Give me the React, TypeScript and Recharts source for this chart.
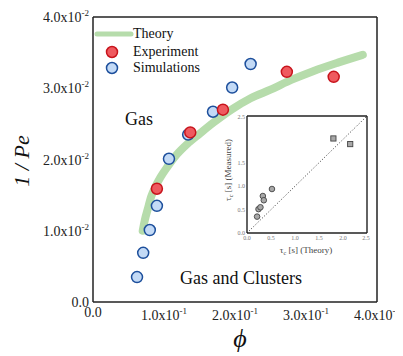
import React from 'react';
import {
  ComposedChart,
  Line,
  Scatter,
  XAxis,
  YAxis,
  ReferenceLine,
} from 'recharts';

// main panel
const theoryPhi = [0.07, 0.073, 0.077, 0.082, 0.088, 0.095, 0.105, 0.118, 0.133, 0.15, 0.17, 0.195, 0.222, 0.25, 0.28, 0.31, 0.345, 0.38];
const theoryPe = [0.01, 0.0115, 0.013, 0.0148, 0.0162, 0.0175, 0.019, 0.0207, 0.0222, 0.0236, 0.0252, 0.027, 0.0286, 0.0298, 0.0312, 0.0324, 0.0336, 0.0347];

const expPhi = [0.09, 0.137, 0.183, 0.273, 0.339];
const expPe = [0.0159, 0.0238, 0.027, 0.0323, 0.0316];

const simPhi = [0.062, 0.0707, 0.08, 0.09, 0.107, 0.134, 0.169, 0.196, 0.222];
const simPe = [0.0035, 0.0069, 0.0101, 0.0135, 0.0201, 0.0235, 0.0267, 0.0301, 0.0334];

const xTicks = [0, 0.1, 0.2, 0.3, 0.4];
const xInnerTicks = [0.1, 0.2, 0.3];
const yTicks = [0, 0.01, 0.02, 0.03, 0.04];
const yInnerTicks = [0.005, 0.01, 0.015, 0.02, 0.025, 0.03, 0.035];

// inset
const insetCircleTheory = [0.21, 0.24, 0.28, 0.33, 0.35, 0.52];
const insetCircleMeasured = [0.35, 0.51, 0.55, 0.79, 0.7, 0.94];
const insetSquareTheory = [1.8, 2.15];
const insetSquareMeasured = [2.02, 1.9];
const insetTicks = [0, 0.5, 1, 1.5, 2, 2.5];
const insetMinorTicks = [0.25, 0.5, 0.75, 1, 1.25, 1.5, 1.75, 2, 2.25];

const theory = theoryPhi.map((phi, i) => ({ phi, pe: theoryPe[i] }));
const experiment = expPhi.map((phi, i) => ({ phi, pe: expPe[i] }));
const simulations = simPhi.map((phi, i) => ({ phi, pe: simPe[i] }));
const insetCircles = insetCircleTheory.map((t, i) => ({ t, m: insetCircleMeasured[i] }));
const insetSquares = insetSquareTheory.map((t, i) => ({ t, m: insetSquareMeasured[i] }));

const SERIF = '"Liberation Serif", "DejaVu Serif", serif';
const GREEN = '#b6dcab';
const AXIS = '#222';

const YTick = (props: any) => {
  const { x, y, payload } = props;
  const k = Math.round(payload.value * 100);
  return (
    <text x={x} y={y} dy={5} textAnchor="end" fontFamily={SERIF} fontSize={14} fill="#222">
      {k === 0 ? (
        '0.0'
      ) : (
        <>
          <tspan>{k}.0x10</tspan>
          <tspan dy={-6} fontSize={9}>-2</tspan>
        </>
      )}
    </text>
  );
};

const XTick = (props: any) => {
  const { x, y, payload } = props;
  const k = Math.round(payload.value * 10);
  if (k === 0) {
    return (
      <text x={x} y={y} dy={11} textAnchor="middle" fontFamily={SERIF} fontSize={14} fill="#222">
        0.0
      </text>
    );
  }
  return (
    <text x={x} y={y} dy={14} textAnchor="middle" fontFamily={SERIF} fontSize={14} fill="#222">
      <tspan>{k}.0x10</tspan>
      <tspan dy={-6} fontSize={9}>-1</tspan>
    </text>
  );
};

const SmallTick = (props: any) => {
  const { x, y, payload, axis } = props;
  const label = payload.value.toFixed(1);
  if (axis === 'y') {
    return (
      <text x={x} y={y} dy={2} textAnchor="end" fontFamily={SERIF} fontSize={6} fill="#777">
        {label}
      </text>
    );
  }
  return (
    <text x={x} y={y} dy={5} textAnchor="middle" fontFamily={SERIF} fontSize={6} fill="#777">
      {label}
    </text>
  );
};

const ExpDot = (props: any) => (
  <circle cx={props.cx} cy={props.cy} r={5.5} fill="#ef5a5f" stroke="#c8141c" strokeWidth={1.5} />
);
const SimDot = (props: any) => (
  <circle cx={props.cx} cy={props.cy} r={5.5} fill="#c3daf6" stroke="#1d4f9c" strokeWidth={1.5} />
);
const InsetCircle = (props: any) => (
  <circle cx={props.cx} cy={props.cy} r={2.8} fill="#a8a8a8" stroke="#444" strokeWidth={0.9} />
);
const InsetSquare = (props: any) => (
  <rect x={props.cx - 2.6} y={props.cy - 2.6} width={5.2} height={5.2} fill="#a8a8a8" stroke="#444" strokeWidth={0.9} />
);

export default function App() {
  return (
    <div style={{ position: 'relative', width: 395, height: 348 }}>
      <ComposedChart width={395} height={348} margin={{ top: 9, right: 26, left: 5, bottom: 24 }}>
        <XAxis
          xAxisId="x"
          dataKey="phi"
          type="number"
          domain={[0, 0.4]}
          ticks={xTicks}
          tickLine={false}
          tickSize={0}
          tickMargin={4}
          height={30}
          axisLine={{ stroke: AXIS, strokeWidth: 1.5 }}
          tick={<XTick />}
        />
        <XAxis xAxisId="xb" type="number" domain={[0, 0.4]} ticks={xInnerTicks} mirror axisLine={false} tick={false} tickSize={5} tickLine={{ stroke: AXIS, strokeWidth: 1.2 }} />
        <XAxis xAxisId="xt" orientation="top" type="number" domain={[0, 0.4]} ticks={xInnerTicks} mirror tick={false} tickSize={5} axisLine={{ stroke: AXIS, strokeWidth: 1.5 }} tickLine={{ stroke: AXIS, strokeWidth: 1.2 }} />
        <YAxis
          yAxisId="y"
          dataKey="pe"
          type="number"
          domain={[0, 0.04]}
          ticks={yTicks}
          width={80}
          tickLine={false}
          tickSize={0}
          tickMargin={4}
          axisLine={{ stroke: AXIS, strokeWidth: 1.5 }}
          tick={<YTick />}
        />
        <YAxis yAxisId="yl" type="number" domain={[0, 0.04]} ticks={yInnerTicks} mirror axisLine={false} tick={false} tickSize={5} tickLine={{ stroke: AXIS, strokeWidth: 1.2 }} />
        <YAxis yAxisId="yr" orientation="right" type="number" domain={[0, 0.04]} ticks={yInnerTicks} mirror tick={false} tickSize={5} axisLine={{ stroke: AXIS, strokeWidth: 1.5 }} tickLine={{ stroke: AXIS, strokeWidth: 1.2 }} />
        <Line
          xAxisId="x"
          yAxisId="y"
          data={theory}
          dataKey="pe"
          type="monotone"
          stroke={GREEN}
          strokeWidth={8}
          strokeLinecap="round"
          dot={false}
          isAnimationActive={false}
        />
        <Scatter xAxisId="x" yAxisId="y" data={simulations} dataKey="pe" shape={<SimDot />} isAnimationActive={false} />
        <Scatter xAxisId="x" yAxisId="y" data={experiment} dataKey="pe" shape={<ExpDot />} isAnimationActive={false} />
      </ComposedChart>

      <div style={{ position: 'absolute', left: 210, top: 100 }}>
        <ComposedChart width={158} height={165} margin={{ top: 8, right: 9, left: 13, bottom: 28 }}>
          <XAxis
            xAxisId="x"
            dataKey="t"
            type="number"
            domain={[0, 2.5]}
            ticks={insetTicks}
            height={12}
            tickLine={false}
            tickSize={0}
            tickMargin={2}
            axisLine={{ stroke: AXIS, strokeWidth: 1.4 }}
            tick={<SmallTick axis="x" />}
          />
          <XAxis xAxisId="xb" type="number" domain={[0, 2.5]} ticks={insetMinorTicks} mirror axisLine={false} tick={false} tickSize={3} tickLine={{ stroke: AXIS, strokeWidth: 0.9 }} />
          <XAxis xAxisId="xt" orientation="top" type="number" domain={[0, 2.5]} ticks={insetMinorTicks} mirror tick={false} tickSize={3} axisLine={{ stroke: AXIS, strokeWidth: 1.4 }} tickLine={{ stroke: AXIS, strokeWidth: 0.9 }} />
          <YAxis
            yAxisId="y"
            dataKey="m"
            type="number"
            domain={[0, 2.5]}
            ticks={insetTicks}
            width={16}
            tickLine={false}
            tickSize={0}
            tickMargin={2}
            axisLine={{ stroke: AXIS, strokeWidth: 1.4 }}
            tick={<SmallTick axis="y" />}
          />
          <YAxis yAxisId="yl" type="number" domain={[0, 2.5]} ticks={insetMinorTicks} mirror axisLine={false} tick={false} tickSize={3} tickLine={{ stroke: AXIS, strokeWidth: 0.9 }} />
          <YAxis yAxisId="yr" orientation="right" type="number" domain={[0, 2.5]} ticks={insetMinorTicks} mirror tick={false} tickSize={3} axisLine={{ stroke: AXIS, strokeWidth: 1.4 }} tickLine={{ stroke: AXIS, strokeWidth: 0.9 }} />
          <ReferenceLine
            xAxisId="x"
            yAxisId="y"
            segment={[{ x: 0, y: 0 }, { x: 2.5, y: 2.5 }]}
            stroke="#333"
            strokeWidth={1}
            strokeDasharray="1 2"
          />
          <Scatter xAxisId="x" yAxisId="y" data={insetCircles} dataKey="m" shape={<InsetCircle />} isAnimationActive={false} />
          <Scatter xAxisId="x" yAxisId="y" data={insetSquares} dataKey="m" shape={<InsetSquare />} isAnimationActive={false} />
        </ComposedChart>
      </div>

      <svg width={395} height={348} style={{ position: 'absolute', left: 0, top: 0, pointerEvents: 'none' }}>
        <g fontFamily={SERIF} fill="#111">
          <line x1={89} y1={26} x2={123} y2={26} stroke={GREEN} strokeWidth={5} strokeLinecap="round" />
          <text x={125} y={30} fontSize={14}>Theory</text>
          <circle cx={104} cy={44} r={5.5} fill="#ef5a5f" stroke="#c8141c" strokeWidth={1.5} />
          <text x={125} y={48} fontSize={14}>Experiment</text>
          <circle cx={104} cy={60} r={5.5} fill="#c3daf6" stroke="#1d4f9c" strokeWidth={1.5} />
          <text x={125} y={64} fontSize={14}>Simulations</text>

          <text x={117} y={117} fontSize={18}>Gas</text>
          <text x={172} y={276} fontSize={18}>Gas and Clusters</text>

          <text x={21} y={153} fontSize={22} fontStyle="italic" textAnchor="middle" transform="rotate(-90 21 153)">
            1 / Pe
          </text>
          <text x={232} y={339} fontSize={26} fontStyle="italic" textAnchor="middle">
            ϕ
          </text>

          <text x={223} y={162} fontSize={9} fill="#444" textAnchor="middle" transform="rotate(-90 223 162)">
            <tspan>τ</tspan>
            <tspan dy={2} fontSize={6}>c</tspan>
            <tspan dy={-2}> [s] (Measured)</tspan>
          </text>
          <text x={298} y={245} fontSize={9} fill="#444" textAnchor="middle">
            <tspan>τ</tspan>
            <tspan dy={2} fontSize={6}>c</tspan>
            <tspan dy={-2}> [s] (Theory)</tspan>
          </text>
        </g>
      </svg>
    </div>
  );
}
